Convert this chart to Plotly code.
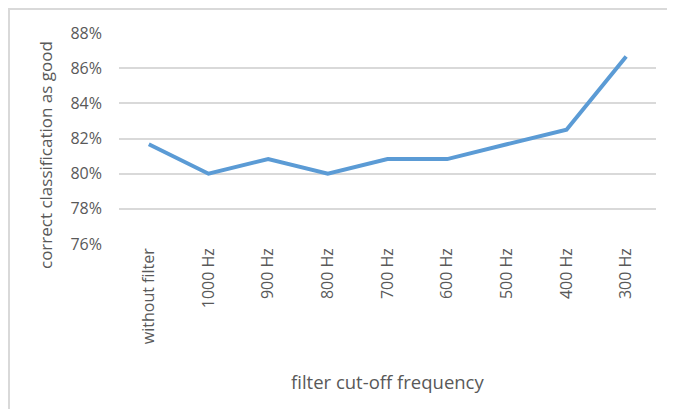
import plotly.graph_objects as go

categories = ["without filter", "1000 Hz", "900 Hz", "800 Hz", "700 Hz",
              "600 Hz", "500 Hz", "400 Hz", "300 Hz"]
accuracy = [0.8167, 0.8000, 0.8083, 0.8000, 0.8083, 0.8083, 0.8167, 0.8250, 0.8667]
y_ticks = [0.76, 0.78, 0.80, 0.82, 0.84, 0.86, 0.88]
y_tick_labels = ["76%", "78%", "80%", "82%", "84%", "86%", "88%"]
x_title = "filter cut-off frequency"
y_title = "correct classification as good"

FONT = "Open Sans"
GRAY = "#595959"

fig = go.Figure()
fig.add_trace(go.Scatter(
    x=list(range(len(categories))), y=accuracy, mode="lines",
    line=dict(color="#5B9BD5", width=4), hoverinfo="skip", showlegend=False,
))

# page body has an 8px margin, so figure coords = page coords - 8;
# keep the figure small enough that the page never scrolls
OFF = 8
W, H = 675 - 2 * OFF, 417 - 2 * OFF
L, R, T, B = 119 - OFF, 656 - OFF, 33 - OFF, 244 - OFF
pw, ph = R - L, B - T
fig.update_layout(
    width=W, height=H,
    margin=dict(l=L, r=W - R, t=T, b=H - B),
    paper_bgcolor="white", plot_bgcolor="white",
    font=dict(family=FONT, color=GRAY),
    xaxis=dict(
        range=[-0.5, len(categories) - 0.5],
        tickmode="array", tickvals=list(range(len(categories))), ticktext=categories,
        tickangle=-90, tickfont=dict(size=16, color=GRAY, family=FONT),
        showgrid=False, zeroline=False, showline=False, ticks="",
        automargin=False, fixedrange=True,
    ),
    yaxis=dict(
        range=[0.76, 0.88], tickmode="array", tickvals=y_ticks, ticktext=y_tick_labels,
        tickfont=dict(size=16, color=GRAY, family=FONT),
        showgrid=True, gridcolor="#d9d9d9", gridwidth=1.5,
        zeroline=False, showline=False, ticks="", ticklabelstandoff=16,
        automargin=False, fixedrange=True,
    ),
    annotations=[
        dict(text=x_title, xref="paper", yref="paper", x=0.5, y=(B - (381 - OFF)) / ph,
             xanchor="center", yanchor="middle", showarrow=False,
             font=dict(size=18.5, color=GRAY, family=FONT)),
        dict(text=y_title, xref="paper", yref="paper", x=((45 - OFF) - L) / pw,
             y=(B - (155 - OFF)) / ph,
             xanchor="center", yanchor="middle", showarrow=False, textangle=-90,
             font=dict(size=17, color=GRAY, family=FONT)),
    ],
)

# outer chart-area border (light gray): only the top and left edges are visible
border = dict(color="#d9d9d9", width=2)
fig.add_shape(type="line", xref="paper", yref="paper",
              x0=(0 - L) / pw, x1=(W - L) / pw, y0=(B - 1) / ph, y1=(B - 1) / ph,
              line=border, layer="below")
fig.add_shape(type="line", xref="paper", yref="paper",
              x0=(1 - L) / pw, x1=(1 - L) / pw, y0=(B - 1) / ph, y1=(B - H) / ph,
              line=border, layer="below")

fig.write_html("out.html")
